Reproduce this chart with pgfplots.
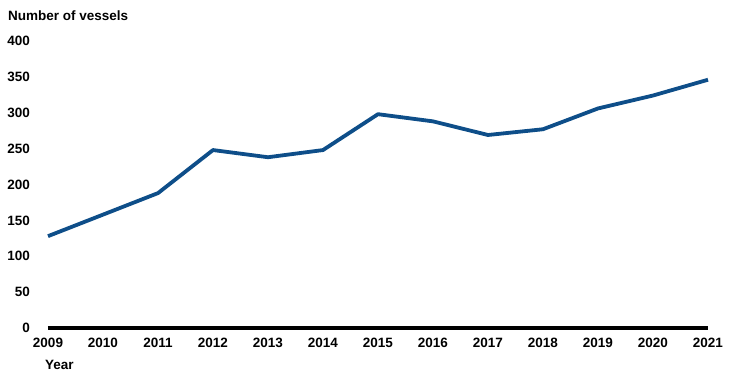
\documentclass[border=0pt]{standalone}
\usepackage{pgfplots}
\pgfplotsset{compat=1.18}
\usepackage{fontspec}
\setmainfont{Liberation Sans}
\definecolor{lineblue}{RGB}{14,78,137}
\begin{document}
\begin{tikzpicture}
\path[use as bounding box] (-48bp,-50bp) rectangle (683bp,328bp);
\begin{axis}[
  scale only axis,
  width=660bp, height=287bp,
  xmin=2009, xmax=2021, ymin=0, ymax=400,
  axis y line=none,
  axis x line=bottom,
  x axis line style={line width=4.5bp, black, -},
  xtick={2009,...,2021},
  ytick={0,50,...,400},
  major tick length=0pt,
  xticklabel style={font=\fontsize{13.5bp}{15bp}\selectfont\bfseries, yshift=-7bp},
  /pgf/number format/1000 sep={},
  /pgf/number format/assume math mode=true,
  clip=false,
]
\addplot[lineblue, line width=3.8bp, line join=round] coordinates {
(2009,128) (2010,158) (2011,188) (2012,248) (2013,238) (2014,248)
(2015,298) (2016,288) (2017,269) (2018,277) (2019,306) (2020,324) (2021,346)
};
\foreach \v in {0,50,...,400} {
  \edef\tmp{\noexpand\node[anchor=east, font=\noexpand\fontsize{13.5bp}{15bp}\noexpand\selectfont\noexpand\bfseries, inner sep=0pt] at (axis cs:2009,\v) [xshift=-18bp] {\v};}
  \tmp
}
\end{axis}
\node[anchor=west, inner sep=0pt, font=\fontsize{13.5bp}{15bp}\selectfont\bfseries] at (-40bp,312bp) {Number of vessels};
\node[anchor=west, inner sep=0pt, font=\fontsize{13.5bp}{15bp}\selectfont\bfseries] at (-3bp,-37bp) {Year};
\end{tikzpicture}
\end{document}
